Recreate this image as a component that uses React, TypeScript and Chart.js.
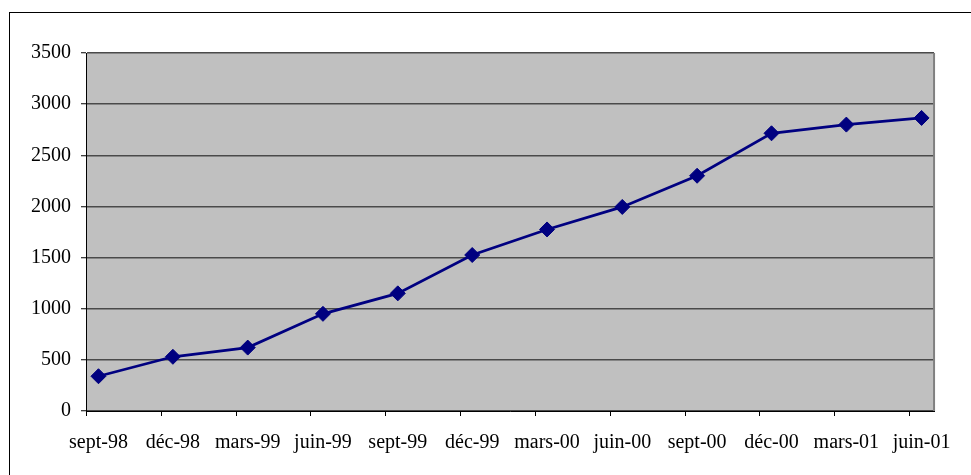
import React, { useEffect, useRef } from 'react';
import { Chart, registerables } from 'chart.js';

Chart.register(...registerables);

const tickLabels = ['sept-98', 'déc-98', 'mars-99', 'juin-99', 'sept-99', 'déc-99', 'mars-00', 'juin-00', 'sept-00', 'déc-00', 'mars-01', 'juin-01'];
const tickDates = ['1998-09-01', '1998-12-01', '1999-03-01', '1999-06-01', '1999-09-01', '1999-12-01', '2000-03-01', '2000-06-01', '2000-09-01', '2000-12-01', '2001-03-01', '2001-06-01'];
const pointDates = ['1998-09-16', '1998-12-16', '1999-03-16', '1999-06-16', '1999-09-16', '1999-12-16', '2000-03-16', '2000-06-16', '2000-09-16', '2000-12-16', '2001-03-16', '2001-06-16'];
const values = [340, 530, 620, 950, 1150, 1525, 1775, 1995, 2300, 2715, 2800, 2865];
const axisStart = '1998-09-01';
const axisEnd = '2001-07-01';
const yMin = 0;
const yMax = 3500;
const yStep = 500;

function monthPos(iso: string): number {
  const [y, m, d] = iso.split('-').map(Number);
  const [sy, sm] = axisStart.split('-').map(Number);
  const dim = new Date(Date.UTC(y, m, 0)).getUTCDate();
  return (y - sy) * 12 + (m - sm) + (d - 1) / dim;
}

const FONT = { family: "'Liberation Serif', 'Times New Roman', serif", size: 20 };

const bgPlugin = {
  id: 'plotBg',
  beforeDraw(chart: any) {
    const { ctx, chartArea: a } = chart;
    ctx.save();
    ctx.fillStyle = '#C0C0C0';
    ctx.fillRect(a.left, a.top, a.right - a.left, a.bottom - a.top);
    ctx.restore();
  },
  beforeDatasetsDraw(chart: any) {
    const { ctx, chartArea: a } = chart;
    ctx.save();
    ctx.strokeStyle = '#808080';
    ctx.lineWidth = 2;
    ctx.beginPath();
    ctx.moveTo(a.right, a.top);
    ctx.lineTo(a.right, a.bottom);
    ctx.stroke();
    // quarter tick marks on the date axis
    const xs = chart.scales.x;
    ctx.strokeStyle = '#000';
    ctx.lineWidth = 1;
    ctx.beginPath();
    tickDates.forEach((d) => {
      const px = Math.round(xs.getPixelForValue(monthPos(d))) + 0.5;
      ctx.moveTo(px, a.bottom);
      ctx.lineTo(px, a.bottom + 5);
    });
    ctx.stroke();
    ctx.restore();
  },
};

export default function App() {
  const ref = useRef<HTMLCanvasElement>(null);
  useEffect(() => {
    if (!ref.current) return;
    const chart = new Chart(ref.current, {
      type: 'line',
      data: {
        datasets: [
          {
            data: pointDates.map((d, i) => ({ x: monthPos(d), y: values[i] })),
            borderColor: '#000080',
            backgroundColor: '#000080',
            borderWidth: 2.75,
            tension: 0,
            pointStyle: 'rectRot',
            pointRadius: 7.5,
            pointBorderWidth: 1,
            pointBackgroundColor: '#000080',
            pointBorderColor: '#000080',
          },
        ],
      },
      options: {
        responsive: false,
        animation: false,
        devicePixelRatio: 1,
        layout: { padding: { top: 53, right: 36, left: 0, bottom: 0 } },
        plugins: { legend: { display: false }, tooltip: { enabled: false }, title: { display: false } },
        scales: {
          x: {
            type: 'linear',
            min: monthPos(axisStart),
            max: monthPos(axisEnd),
            afterBuildTicks: (s: any) => {
              s.ticks = pointDates.map((d) => ({ value: monthPos(d) }));
            },
            afterFit: (s: any) => {
              s.height = 64;
            },
            ticks: {
              autoSkip: false,
              maxRotation: 0,
              minRotation: 0,
              padding: 20,
              color: '#000',
              font: FONT,
              callback: (_v: any, i: number) => tickLabels[i],
            },
            grid: { display: true, drawOnChartArea: false, drawTicks: false },
            border: { color: '#000', width: 1 },
          },
          y: {
            min: yMin,
            max: yMax,
            afterFit: (s: any) => {
              s.width = 86;
            },
            ticks: { stepSize: yStep, padding: 10, color: '#000', font: FONT, callback: (v: any) => String(v) },
            grid: { color: '#4a4a4a', lineWidth: 1.5, drawTicks: true, tickLength: 5, tickColor: '#000', tickWidth: 1 },
            border: { color: '#000', width: 1 },
          },
        },
      },
      plugins: [bgPlugin],
    });
    return () => chart.destroy();
  }, []);

  return (
    <div>
      <div
        style={{
          position: 'fixed',
          left: 9,
          top: 12,
          width: 1100,
          height: 600,
          border: '1px solid #000',
          boxShadow: '0 1px 0 #999',
        }}
      />
      <canvas
        ref={ref}
        width={971}
        height={475}
        style={{ position: 'fixed', left: 0, top: 0, width: 971, height: 475, display: 'block', zIndex: 1 }}
      />
    </div>
  );
}
